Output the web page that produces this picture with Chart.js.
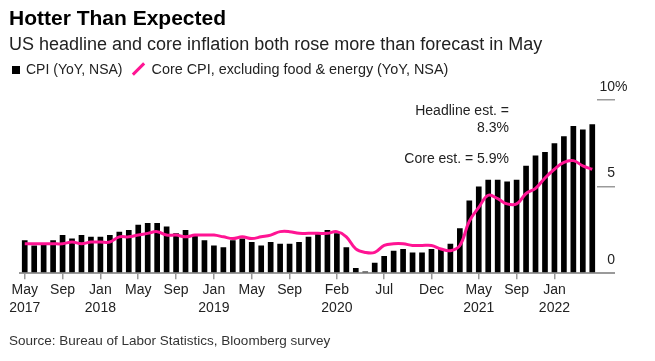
<!DOCTYPE html>
<html>
<head>
<meta charset="utf-8">
<script src="https://cdn.jsdelivr.net/npm/chart.js@4"></script>
<style>
  body { margin: 0; background: #fff; font-family: 'Liberation Sans', Arial, sans-serif; color: #222; }
  #wrap { position: relative; width: 655px; height: 361px; overflow: hidden; }
  #chart { position: absolute; left: 0; top: 0; }
  .txt { position: absolute; white-space: nowrap; }
  #title { left: 9px; top: 6px; font-size: 21px; font-weight: bold; color: #000; line-height: 24px; }
  #subtitle { left: 9px; top: 33px; font-size: 18px; line-height: 22px; }
  #legend { left: 12px; top: 60px; font-size: 14px; line-height: 18px; }
  #legend .core { font-size: 14.4px; }
  .sq { display: inline-block; width: 8px; height: 8px; background: #000; margin-right: 6px; vertical-align: 0px; }
  .sl { display: inline-block; width: 3px; height: 16px; background: #ff1493; transform: rotate(45deg); margin: 0 12px 0 14px; vertical-align: -3px; }
  .note { right: 146px; font-size: 14px; text-align: right; line-height: 17px; }
  #source { left: 9px; top: 332px; font-size: 13.5px; line-height: 17px; color: #333; }
</style>
</head>
<body>
<div id="wrap">
  <canvas id="chart" width="655" height="361"></canvas>
  <div class="txt" id="title">Hotter Than Expected</div>
  <div class="txt" id="subtitle">US headline and core inflation both rose more than forecast in May</div>
  <div class="txt" id="legend"><span class="sq"></span>CPI (YoY, NSA)<span class="sl"></span><span class="core">Core CPI, excluding food &amp; energy (YoY, NSA)</span></div>
  <div class="txt note" style="top:102px">Headline est. =<br>8.3%</div>
  <div class="txt note" style="top:150px">Core est. = 5.9%</div>
  <div class="txt" id="source">Source: Bureau of Labor Statistics, Bloomberg survey</div>
</div>
<script>
// months May 2017 .. May 2022
const months = [
  'May 2017', 'Jun 2017', 'Jul 2017', 'Aug 2017', 'Sep 2017', 'Oct 2017', 'Nov 2017', 'Dec 2017',
  'Jan 2018', 'Feb 2018', 'Mar 2018', 'Apr 2018', 'May 2018', 'Jun 2018', 'Jul 2018', 'Aug 2018', 'Sep 2018', 'Oct 2018', 'Nov 2018', 'Dec 2018',
  'Jan 2019', 'Feb 2019', 'Mar 2019', 'Apr 2019', 'May 2019', 'Jun 2019', 'Jul 2019', 'Aug 2019', 'Sep 2019', 'Oct 2019', 'Nov 2019', 'Dec 2019',
  'Jan 2020', 'Feb 2020', 'Mar 2020', 'Apr 2020', 'May 2020', 'Jun 2020', 'Jul 2020', 'Aug 2020', 'Sep 2020', 'Oct 2020', 'Nov 2020', 'Dec 2020',
  'Jan 2021', 'Feb 2021', 'Mar 2021', 'Apr 2021', 'May 2021', 'Jun 2021', 'Jul 2021', 'Aug 2021', 'Sep 2021', 'Oct 2021', 'Nov 2021', 'Dec 2021',
  'Jan 2022', 'Feb 2022', 'Mar 2022', 'Apr 2022', 'May 2022'
];

const cpi = [
  1.9, 1.6, 1.7, 1.9, 2.2, 2.0, 2.2, 2.1,
  2.1, 2.2, 2.4, 2.5, 2.8, 2.9, 2.9, 2.7, 2.3, 2.5, 2.2, 1.9,
  1.6, 1.5, 1.9, 2.0, 1.8, 1.6, 1.8, 1.7, 1.7, 1.8, 2.1, 2.3,
  2.5, 2.3, 1.5, 0.3, 0.1, 0.6, 1.0, 1.3, 1.4, 1.2, 1.2, 1.4,
  1.4, 1.7, 2.6, 4.2, 5.0, 5.4, 5.4, 5.3, 5.4, 6.2, 6.8, 7.0,
  7.5, 7.9, 8.5, 8.3, 8.6
];

const core = [
  1.7, 1.7, 1.7, 1.7, 1.7, 1.8, 1.7, 1.8,
  1.8, 1.8, 2.1, 2.1, 2.2, 2.3, 2.4, 2.2, 2.2, 2.1, 2.2, 2.2,
  2.2, 2.1, 2.0, 2.1, 2.0, 2.1, 2.2, 2.4, 2.4, 2.3, 2.3, 2.3,
  2.3, 2.4, 2.1, 1.4, 1.2, 1.2, 1.6, 1.7, 1.7, 1.6, 1.6, 1.6,
  1.4, 1.3, 1.6, 3.0, 3.8, 4.5, 4.3, 4.0, 4.0, 4.6, 4.9, 5.5,
  6.0, 6.4, 6.5, 6.2, 6.0
];

// x-axis tick labels (month index -> label lines)
const xTickIdx = [0, 4, 8, 12, 16, 20, 24, 28, 33, 38, 43, 48, 52, 56];
const xTickText = [
  ['May', '2017'], ['Sep', ''], ['Jan', '2018'], ['May', ''], ['Sep', ''], ['Jan', '2019'], ['May', ''],
  ['Sep', ''], ['Feb', '2020'], ['Jul', ''], ['Dec', ''], ['May', '2021'], ['Sep', ''], ['Jan', '2022']
];

const yTicks = [0, 5, 10];

const magenta = '#ff1493';
const gray = '#9a9a9a';
const font = "'Liberation Sans', Arial, sans-serif";

// right-hand value labels, number right-aligned, % hanging
const yLabels = {
  id: 'yLabels',
  afterDraw(chart) {
    const ctx = chart.ctx;
    const y = chart.scales.y;
    const xr = chart.chartArea.right + 18;
    ctx.save();
    ctx.font = '14px ' + font;
    ctx.fillStyle = '#222';
    ctx.textBaseline = 'middle';
    yTicks.forEach(v => {
      const py = y.getPixelForValue(v) - 13;
      ctx.textAlign = 'right';
      ctx.fillText(String(v), xr, py);
      if (v === yTicks[yTicks.length - 1]) {
        ctx.textAlign = 'left';
        ctx.fillText('%', xr, py);
      }
    });
    ctx.restore();
  }
};

new Chart(document.getElementById('chart'), {
  type: 'bar',
  data: {
    labels: months,
    datasets: [
      {
        type: 'line',
        label: 'Core CPI, excluding food & energy (YoY, NSA)',
        data: core,
        borderColor: magenta,
        borderWidth: 3,
        pointRadius: 0,
        tension: 0.4,
        order: 0
      },
      {
        label: 'CPI (YoY, NSA)',
        data: cpi,
        backgroundColor: '#000',
        barPercentage: 0.6,
        categoryPercentage: 1,
        order: 1
      }
    ]
  },
  options: {
    responsive: false,
    animation: false,
    devicePixelRatio: 1,
    layout: { padding: { left: 20, right: 40, top: 100, bottom: 42 } },
    plugins: {
      legend: { display: false },
      title: { display: false },
      tooltip: { enabled: false }
    },
    scales: {
      x: {
        offset: true,
        grid: {
          offset: false,
          drawOnChartArea: false,
          drawTicks: true,
          tickLength: 6,
          color: ctx => xTickIdx.includes(ctx.index) ? gray : 'rgba(0,0,0,0)',
          lineWidth: 1.5
        },
        border: { color: gray, width: 2 },
        ticks: {
          autoSkip: false,
          maxRotation: 0,
          padding: 1,
          color: '#222',
          font: { family: font, size: 14, lineHeight: 1.35 },
          callback: (v, i) => {
            const k = xTickIdx.indexOf(i);
            return k >= 0 ? xTickText[k] : '';
          }
        }
      },
      y: {
        position: 'right',
        min: 0,
        max: 10,
        afterBuildTicks: axis => { axis.ticks = yTicks.map(v => ({ value: v })); },
        grid: {
          drawOnChartArea: false,
          drawTicks: true,
          tickLength: 18,
          color: gray,
          lineWidth: ctx => ctx.tick && ctx.tick.value === 0 ? 2 : 1.5
        },
        border: { display: false },
        ticks: { display: false }
      }
    }
  },
  plugins: [yLabels]
});
</script>
</body>
</html>
